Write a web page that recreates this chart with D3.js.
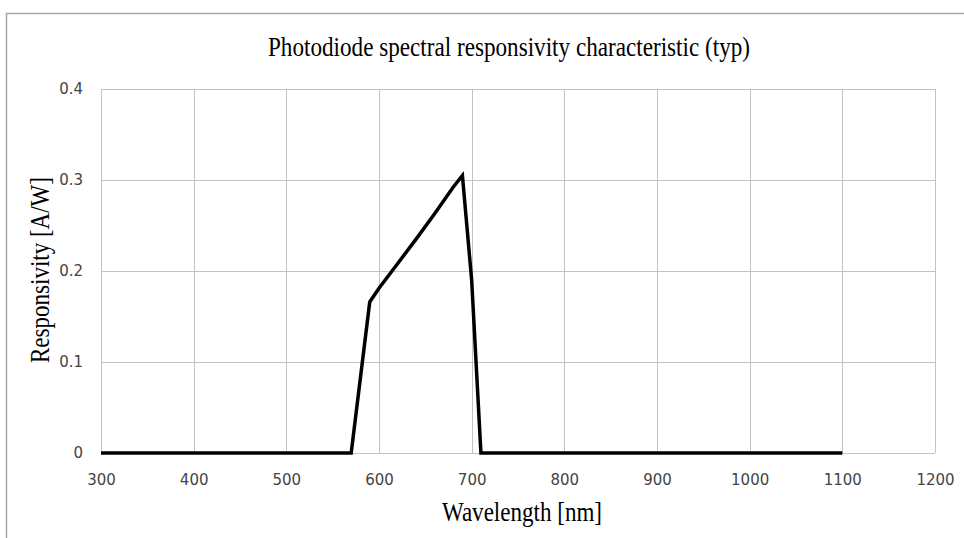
<!DOCTYPE html>
<html>
<head>
<meta charset="utf-8">
<script src="https://cdn.jsdelivr.net/npm/d3@7"></script>
<style>
  html, body { margin: 0; padding: 0; background: #fff; }
  svg { display: block; }
</style>
</head>
<body>
<div id="chart"></div>
<script>
// spectral response
const wavelengths = [300, 570, 590, 600, 620, 640, 660, 680, 690, 700, 710, 1100];
const responsivity = [0, 0, 0.166, 0.181, 0.208, 0.235, 0.263, 0.292, 0.305, 0.19, 0, 0];
const xTicks = [300, 400, 500, 600, 700, 800, 900, 1000, 1100, 1200];
const yTicks = [0, 0.1, 0.2, 0.3, 0.4];
const yTickLabels = ["0", "0.1", "0.2", "0.3", "0.4"];

const W = 964, H = 538;
const margin = { top: 89, right: 29, bottom: 85, left: 101 };
const width = W - margin.left - margin.right;
const height = H - margin.top - margin.bottom;

const svg = d3.select("#chart")
    .append("svg")
    .attr("width", W)
    .attr("height", H);

// outer frame, runs off the right and bottom like the original
svg.append("rect")
    .attr("x", 6.5).attr("y", 13.5)
    .attr("width", W).attr("height", H)
    .attr("fill", "none")
    .attr("stroke", "#a6a6a6")
    .attr("stroke-width", 1.5);

const g = svg.append("g")
    .attr("transform", `translate(${margin.left},${margin.top})`);

const x = d3.scaleLinear().domain([300, 1200]).range([0, width]);
const y = d3.scaleLinear().domain([0, 0.4]).range([height, 0]);

// grid
g.append("g")
    .selectAll("line.v")
    .data(xTicks)
    .join("line")
    .attr("x1", d => Math.round(x(d)) + 0.5)
    .attr("x2", d => Math.round(x(d)) + 0.5)
    .attr("y1", 0).attr("y2", height)
    .attr("stroke", "#c3c3c3");

g.append("g")
    .selectAll("line.h")
    .data(yTicks)
    .join("line")
    .attr("x1", 0).attr("x2", width)
    .attr("y1", d => Math.round(y(d)) + 0.5)
    .attr("y2", d => Math.round(y(d)) + 0.5)
    .attr("stroke", "#c3c3c3");

// axes, labels only
const xAxis = g.append("g")
    .attr("transform", `translate(0,${height})`)
    .call(d3.axisBottom(x).tickValues(xTicks).tickSize(0).tickPadding(21).tickFormat(d3.format("d")));
const yAxis = g.append("g")
    .call(d3.axisLeft(y).tickValues(yTicks).tickSize(0).tickPadding(18)
        .tickFormat((d, i) => yTickLabels[i]));

[xAxis, yAxis].forEach(a => {
    a.select(".domain").remove();
    a.selectAll("text")
        .attr("font-family", "DejaVu Sans, sans-serif")
        .attr("font-size", 15)
        .attr("fill", "#444");
});

// curve
const pts = wavelengths.map((w, i) => [w, responsivity[i]]);
g.append("path")
    .datum(pts)
    .attr("fill", "none")
    .attr("stroke", "#000")
    .attr("stroke-width", 3.5)
    .attr("stroke-linejoin", "miter")
    .attr("d", d3.line().x(d => x(d[0])).y(d => y(d[1])));

// titles
svg.append("text")
    .attr("x", 509).attr("y", 56)
    .attr("text-anchor", "middle")
    .attr("font-family", "Liberation Serif, serif")
    .attr("font-size", 27)
    .attr("textLength", 482)
    .attr("lengthAdjust", "spacingAndGlyphs")
    .text("Photodiode spectral responsivity characteristic (typ)");

svg.append("text")
    .attr("x", 522).attr("y", 521)
    .attr("text-anchor", "middle")
    .attr("font-family", "Liberation Serif, serif")
    .attr("font-size", 27)
    .attr("textLength", 160)
    .attr("lengthAdjust", "spacingAndGlyphs")
    .text("Wavelength [nm]");

svg.append("text")
    .attr("transform", "translate(49,270) rotate(-90)")
    .attr("text-anchor", "middle")
    .attr("font-family", "Liberation Serif, serif")
    .attr("font-size", 27)
    .attr("textLength", 186)
    .attr("lengthAdjust", "spacingAndGlyphs")
    .text("Responsivity [A/W]");
</script>
</body>
</html>
